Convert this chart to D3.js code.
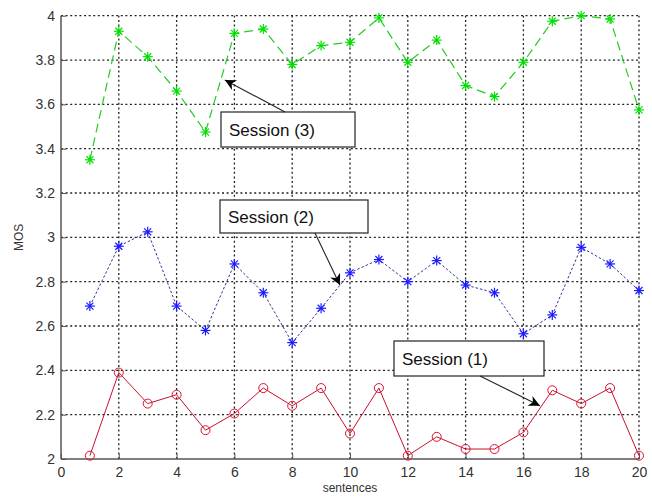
<!DOCTYPE html>
<html><head><meta charset="utf-8">
<script src="https://cdn.jsdelivr.net/npm/d3@7"></script>
<style>body{margin:0;background:#fff}svg{display:block}text{font-family:"Liberation Sans",Arial,sans-serif}</style>
</head><body><svg id="c" width="652" height="497"></svg>
<script>
const sentences = d3.range(1, 21);
const session1 = [2.015,2.39,2.25,2.29,2.13,2.205,2.32,2.24,2.32,2.115,2.32,2.015,2.10,2.045,2.045,2.12,2.31,2.25,2.32,2.015];
const session2 = [2.69,2.96,3.025,2.69,2.58,2.88,2.75,2.525,2.68,2.84,2.90,2.80,2.895,2.785,2.75,2.565,2.65,2.955,2.88,2.76];
const session3 = [3.35,3.93,3.815,3.66,3.475,3.92,3.94,3.78,3.865,3.88,3.99,3.79,3.89,3.685,3.635,3.79,3.975,4.0,3.985,3.575];
const xTicks = [0,2,4,6,8,10,12,14,16,18,20];
const yTicks = [2,2.2,2.4,2.6,2.8,3,3.2,3.4,3.6,3.8,4];
const labels = ["Session (1)","Session (2)","Session (3)"];

const svg = d3.select("#c");
const x = d3.scaleLinear().domain([0,20]).range([61,639]);
const y = d3.scaleLinear().domain([2,4]).range([459,15.7]);

// grid
const g = svg.append("g");
g.selectAll(".vg").data(xTicks.slice(1)).join("line")
  .attr("x1",d=>x(d)).attr("x2",d=>x(d)).attr("y1",y(2)).attr("y2",y(4))
  .attr("stroke","#222").attr("stroke-width",1.3).attr("stroke-dasharray","2,2.6");
g.selectAll(".hg").data(yTicks.slice(1)).join("line")
  .attr("x1",x(0)).attr("x2",x(20)).attr("y1",d=>y(d)).attr("y2",d=>y(d))
  .attr("stroke","#222").attr("stroke-width",1.3).attr("stroke-dasharray","2,2.6");

// axes
const xa = svg.append("g").attr("transform",`translate(0,${y(2)})`)
  .call(d3.axisBottom(x).tickValues(xTicks).tickSize(-5).tickPadding(8).tickFormat(d3.format("d")));
const ya = svg.append("g").attr("transform",`translate(${x(0)},0)`)
  .call(d3.axisLeft(y).tickValues(yTicks).tickSize(-5).tickPadding(6).tickFormat(d=>d3.format("")(+d.toFixed(1))));
[xa,ya].forEach(a=>{
  a.select(".domain").attr("stroke","#555").attr("stroke-width",1.5);
  a.selectAll(".tick line").attr("stroke","#555");
  a.selectAll(".tick text").attr("fill","#333").attr("font-size",14).attr("font-family","Liberation Sans, Arial, sans-serif");
});
xa.select(".domain").attr("d",`M${x(0)},0H${x(20)}`);
ya.select(".domain").attr("d",`M0,${y(2)}V${y(4)}`);

svg.append("text").attr("x",350).attr("y",492).attr("text-anchor","middle").attr("font-size",12).attr("fill","#333").text("sentences");
svg.append("text").attr("transform",`translate(23,${y(3)}) rotate(-90)`).attr("text-anchor","middle").attr("font-size",12).attr("fill","#333").text("MOS");

const line = d3.line().x((d,i)=>x(sentences[i])).y(d=>y(d));

// session 1
svg.append("path").datum(session1).attr("d",line).attr("fill","none").attr("stroke","#c8102e").attr("stroke-width",1);
svg.selectAll(".m1").data(session1).join("circle").attr("cx",(d,i)=>x(sentences[i])).attr("cy",d=>y(d)).attr("r",4.5)
  .attr("fill","none").attr("stroke","#e0102a").attr("stroke-width",1);

// session 2
svg.append("path").datum(session2).attr("d",line).attr("fill","none").attr("stroke","#33339a").attr("stroke-width",1).attr("stroke-dasharray","2.5,2");
// session 3
svg.append("path").datum(session3).attr("d",line).attr("fill","none").attr("stroke","#22cc22").attr("stroke-width",1.2).attr("stroke-dasharray","9,5");

function star(sel, data, color){
  const s = sel.selectAll(null).data(data).join("g").attr("transform",(d,i)=>`translate(${x(sentences[i])},${y(d)})`);
  [[-5,0,5,0],[0,-5,0,5],[-3.5,-3.5,3.5,3.5],[-3.5,3.5,3.5,-3.5]].forEach(c=>{
    s.append("line").attr("x1",c[0]).attr("y1",c[1]).attr("x2",c[2]).attr("y2",c[3]).attr("stroke",color).attr("stroke-width",1.2);
  });
}
star(svg, session2, "#1a1aff");
star(svg, session3, "#00e000");

// annotations
svg.append("defs").append("marker").attr("id","ah").attr("viewBox","0 0 10 10").attr("refX",10).attr("refY",5)
  .attr("markerWidth",16).attr("markerHeight",11).attr("markerUnits","userSpaceOnUse").attr("orient","auto")
  .append("path").attr("d","M0,0L10,5L0,10L3,5Z").attr("fill","#000");
const ann = [
  {t:labels[2], bx:221, by:112, bw:134, bh:35, ax1:285, ay1:112, ax2:5.67, ay2:3.71},
  {t:labels[1], bx:220, by:200, bw:148, bh:33, ax1:315, ay1:233, ax2:9.65, ay2:2.785},
  {t:labels[0], bx:394, by:341, bw:150, bh:35, ax1:480, ay1:376, ax2:16.57, ay2:2.24}
];
ann.forEach(a=>{
  svg.append("rect").attr("x",a.bx).attr("y",a.by).attr("width",a.bw).attr("height",a.bh).attr("fill","#fff").attr("stroke","#222").attr("stroke-width",1.2);
  svg.append("text").attr("x",a.bx+8).attr("y",a.by+a.bh/2+6).attr("font-size",17).attr("fill","#111").text(a.t);
  svg.append("line").attr("x1",a.ax1).attr("y1",a.ay1).attr("x2",x(a.ax2)).attr("y2",y(a.ay2)).attr("stroke","#222").attr("stroke-width",1.1).attr("marker-end","url(#ah)");
});
</script></body></html>
